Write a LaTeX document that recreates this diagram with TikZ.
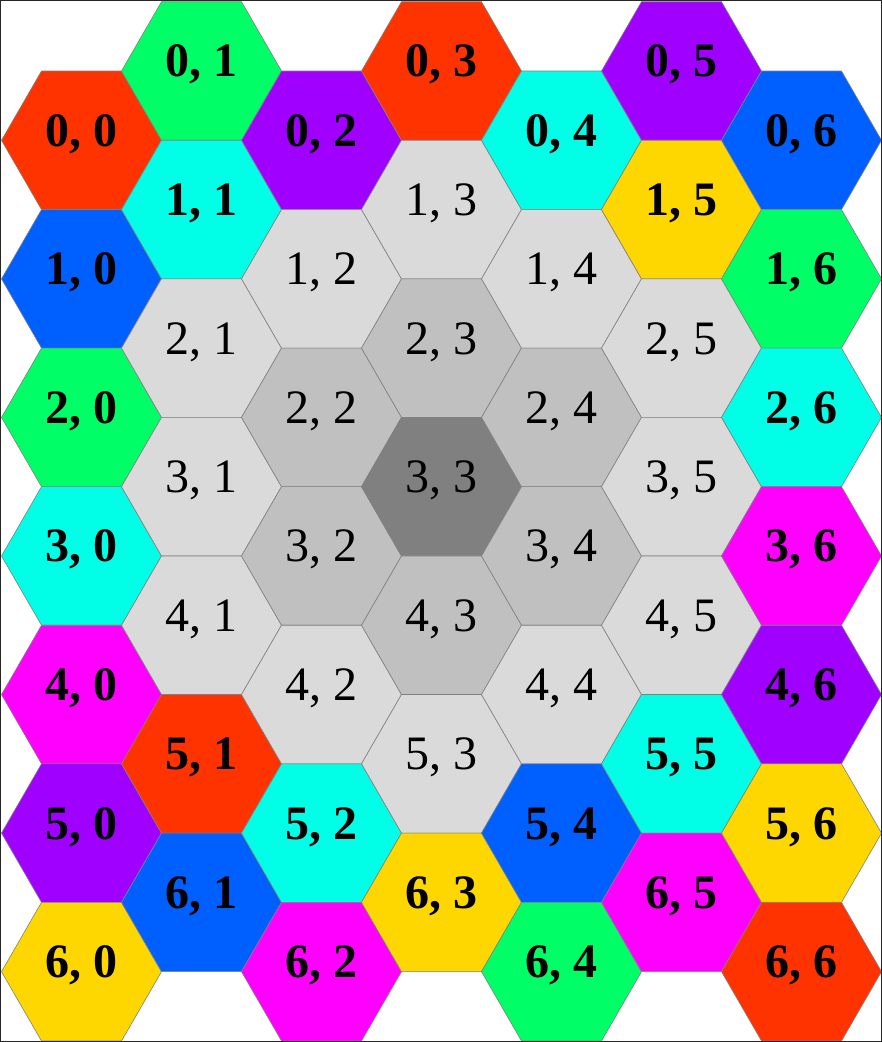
\documentclass[tikz,border=0pt]{standalone}
\usepackage{fontspec}
\setmainfont{Liberation Serif}
\usepackage{xcolor}
\usetikzlibrary{shapes.geometric,positioning}
\definecolor{hexred}{RGB}{255, 51, 0}
\definecolor{hexgreen}{RGB}{0, 255, 102}
\definecolor{hexpurple}{RGB}{160, 0, 255}
\definecolor{hexcyan}{RGB}{0, 255, 230}
\definecolor{hexblue}{RGB}{0, 96, 255}
\definecolor{hexyellow}{RGB}{255, 215, 0}
\definecolor{hexmagenta}{RGB}{255, 0, 255}
\definecolor{ringlight}{RGB}{218, 218, 218}
\definecolor{ringmid}{RGB}{192, 192, 192}
\definecolor{ringdark}{RGB}{128, 128, 128}
\definecolor{hexedge}{RGB}{128, 128, 128}

\begin{document}
\begin{tikzpicture}[
    x=1pt, y=1pt,
    node distance=138.56pt,
    ringcell/.style={regular polygon, regular polygon sides=6, minimum size=160pt, inner sep=0pt, outer sep=0pt, draw=hexedge, line width=0.6pt, text height=32pt, text depth=20pt, font=\fontsize{48}{58}\selectfont},
    edgecell/.style={ringcell, font=\fontsize{48}{58}\selectfont\bfseries},
    frame/.style={draw=black!85, line width=1pt}
]
\useasboundingbox (0,0) rectangle (882,1042);

% Column 0
\node[edgecell, fill=hexred] (hex00) at (81.5,901.7) {0, 0};
\node[edgecell, fill=hexblue, below of=hex00] (hex10) {1, 0};
\node[edgecell, fill=hexgreen, below of=hex10] (hex20) {2, 0};
\node[edgecell, fill=hexcyan, below of=hex20] (hex30) {3, 0};
\node[edgecell, fill=hexmagenta, below of=hex30] (hex40) {4, 0};
\node[edgecell, fill=hexpurple, below of=hex40] (hex50) {5, 0};
\node[edgecell, fill=hexyellow, below of=hex50] (hex60) {6, 0};

% Column 1
\node[edgecell, fill=hexgreen] (hex01) at (201.5,971) {0, 1};
\node[edgecell, fill=hexcyan, below of=hex01] (hex11) {1, 1};
\node[ringcell, fill=ringlight, below of=hex11] (hex21) {2, 1};
\node[ringcell, fill=ringlight, below of=hex21] (hex31) {3, 1};
\node[ringcell, fill=ringlight, below of=hex31] (hex41) {4, 1};
\node[edgecell, fill=hexred, below of=hex41] (hex51) {5, 1};
\node[edgecell, fill=hexblue, below of=hex51] (hex61) {6, 1};

% Column 2
\node[edgecell, fill=hexpurple] (hex02) at (321.5,901.7) {0, 2};
\node[ringcell, fill=ringlight, below of=hex02] (hex12) {1, 2};
\node[ringcell, fill=ringmid, below of=hex12] (hex22) {2, 2};
\node[ringcell, fill=ringmid, below of=hex22] (hex32) {3, 2};
\node[ringcell, fill=ringlight, below of=hex32] (hex42) {4, 2};
\node[edgecell, fill=hexcyan, below of=hex42] (hex52) {5, 2};
\node[edgecell, fill=hexmagenta, below of=hex52] (hex62) {6, 2};

% Column 3
\node[edgecell, fill=hexred] (hex03) at (441.5,971) {0, 3};
\node[ringcell, fill=ringlight, below of=hex03] (hex13) {1, 3};
\node[ringcell, fill=ringmid, below of=hex13] (hex23) {2, 3};
\node[ringcell, fill=ringdark, below of=hex23] (hex33) {3, 3};
\node[ringcell, fill=ringmid, below of=hex33] (hex43) {4, 3};
\node[ringcell, fill=ringlight, below of=hex43] (hex53) {5, 3};
\node[edgecell, fill=hexyellow, below of=hex53] (hex63) {6, 3};

% Column 4
\node[edgecell, fill=hexcyan] (hex04) at (561.5,901.7) {0, 4};
\node[ringcell, fill=ringlight, below of=hex04] (hex14) {1, 4};
\node[ringcell, fill=ringmid, below of=hex14] (hex24) {2, 4};
\node[ringcell, fill=ringmid, below of=hex24] (hex34) {3, 4};
\node[ringcell, fill=ringlight, below of=hex34] (hex44) {4, 4};
\node[edgecell, fill=hexblue, below of=hex44] (hex54) {5, 4};
\node[edgecell, fill=hexgreen, below of=hex54] (hex64) {6, 4};

% Column 5
\node[edgecell, fill=hexpurple] (hex05) at (681.5,971) {0, 5};
\node[edgecell, fill=hexyellow, below of=hex05] (hex15) {1, 5};
\node[ringcell, fill=ringlight, below of=hex15] (hex25) {2, 5};
\node[ringcell, fill=ringlight, below of=hex25] (hex35) {3, 5};
\node[ringcell, fill=ringlight, below of=hex35] (hex45) {4, 5};
\node[edgecell, fill=hexcyan, below of=hex45] (hex55) {5, 5};
\node[edgecell, fill=hexmagenta, below of=hex55] (hex65) {6, 5};

% Column 6
\node[edgecell, fill=hexblue] (hex06) at (801.5,901.7) {0, 6};
\node[edgecell, fill=hexgreen, below of=hex06] (hex16) {1, 6};
\node[edgecell, fill=hexcyan, below of=hex16] (hex26) {2, 6};
\node[edgecell, fill=hexmagenta, below of=hex26] (hex36) {3, 6};
\node[edgecell, fill=hexpurple, below of=hex36] (hex46) {4, 6};
\node[edgecell, fill=hexyellow, below of=hex46] (hex56) {5, 6};
\node[edgecell, fill=hexred, below of=hex56] (hex66) {6, 6};

% Outer frame
\draw[frame] (0.5,0.5) rectangle (881.5,1041.5);

\end{tikzpicture}
\end{document}
